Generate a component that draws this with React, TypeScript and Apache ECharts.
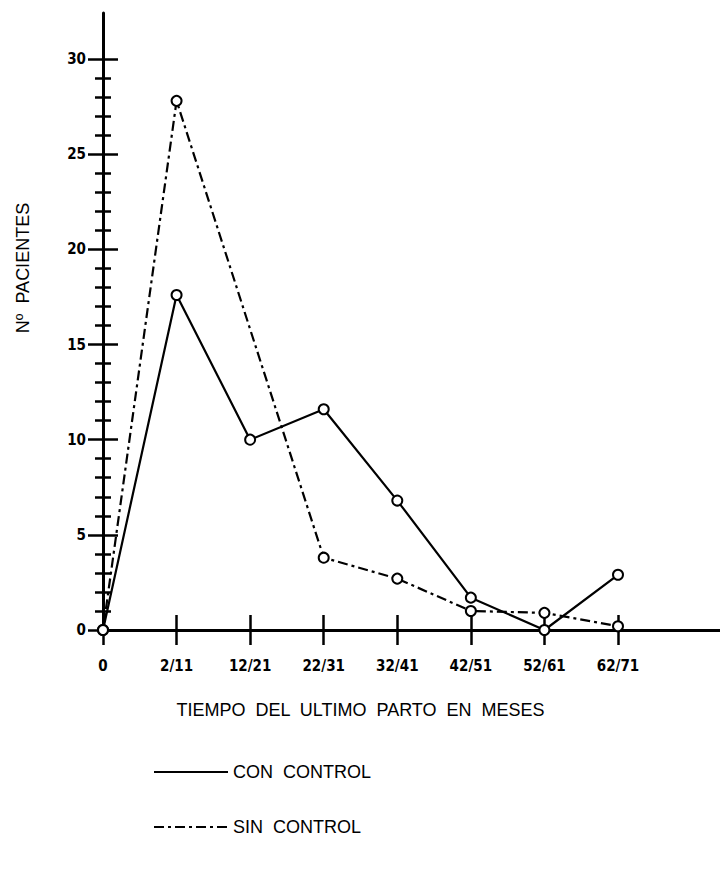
import React, { useEffect, useRef } from "react";
import * as echarts from "echarts";

const categories = ["0", "2/11", "12/21", "22/31", "32/41", "42/51", "52/61", "62/71"];
const conControl: (number | null)[] = [0, 17.6, 10, 11.6, 6.8, 1.7, 0, 2.9];
const sinControl: (number | null)[] = [0, 27.8, null, 3.8, 2.7, 1.0, 0.9, 0.2];
const seriesNames = ["CON  CONTROL", "SIN  CONTROL"];
const xTitle = "TIEMPO  DEL  ULTIMO  PARTO  EN  MESES";
const yTitle = "Nº  PACIENTES";

const LABEL_FONT = "'DejaVu Sans Condensed', 'Liberation Sans Narrow', 'DejaVu Sans', sans-serif";
const TEXT_FONT = "'Liberation Sans', Arial, sans-serif";

export default function App() {
  const ref = useRef<HTMLDivElement>(null);
  useEffect(() => {
    const chart = echarts.init(ref.current!, null, { renderer: "svg" });
    const tickStyle = { color: "#000", width: 2.5 };
    chart.setOption({
      animation: false,
      backgroundColor: "#fff",
      grid: [
        { left: 103, right: 102, top: 59, bottom: 245 },
        { left: 103, right: 0, top: 13, bottom: 245 },
      ],
      legend: {
        orient: "vertical",
        left: 148,
        top: 758,
        itemWidth: 74,
        itemHeight: 16,
        itemGap: 37,
        data: seriesNames,
        itemStyle: { opacity: 0 },
        textStyle: { color: "#000", fontSize: 18, fontFamily: TEXT_FONT },
      },
      xAxis: [
        {
          type: "category",
          gridIndex: 0,
          data: categories,
          boundaryGap: false,
          position: "bottom",
          axisLine: { show: false },
          axisTick: { show: true, length: 15, lineStyle: tickStyle },
          axisLabel: {
            margin: 28,
            color: "#000",
            fontSize: 15,
            fontWeight: "bold",
            fontFamily: LABEL_FONT,
          },
          splitLine: { show: false },
          name: xTitle,
          nameLocation: "middle",
          nameGap: 71,
          nameTextStyle: { color: "#000", fontSize: 18, fontFamily: TEXT_FONT },
        },
        {
          type: "category",
          gridIndex: 0,
          data: categories,
          boundaryGap: false,
          position: "bottom",
          axisLine: { show: false },
          axisTick: { show: true, inside: true, length: 15, lineStyle: tickStyle },
          axisLabel: { show: false },
          splitLine: { show: false },
        },
        {
          type: "value",
          gridIndex: 1,
          min: 0,
          max: 1,
          axisLine: { show: true, lineStyle: { color: "#000", width: 3 } },
          axisTick: { show: false },
          axisLabel: { show: false },
          splitLine: { show: false },
        },
      ],
      yAxis: [
        {
          type: "value",
          gridIndex: 0,
          min: 0,
          max: 30,
          interval: 5,
          position: "left",
          axisLine: { show: false },
          axisTick: { show: true, length: 15, lineStyle: tickStyle },
          minorTick: { show: true, splitNumber: 5, length: 8, lineStyle: { color: "#000", width: 2.5 } },
          axisLabel: {
            margin: 17,
            color: "#000",
            fontSize: 15,
            fontWeight: "bold",
            fontFamily: LABEL_FONT,
          },
          splitLine: { show: false },
          minorSplitLine: { show: false },
        },
        {
          type: "value",
          gridIndex: 0,
          min: 0,
          max: 30,
          interval: 5,
          position: "left",
          axisLine: { show: false },
          axisTick: { show: true, inside: true, length: 15, lineStyle: tickStyle },
          minorTick: { show: true, splitNumber: 5, length: 8, lineStyle: { color: "#000", width: 2.5 } },
          axisLabel: { show: false },
          splitLine: { show: false },
        },
        {
          type: "value",
          gridIndex: 1,
          min: 0,
          max: 1,
          axisLine: { show: true, lineStyle: { color: "#000", width: 3 } },
          axisTick: { show: false },
          axisLabel: { show: false },
          splitLine: { show: false },
        },
      ],
      graphic: [
        {
          type: "text",
          x: 23,
          y: 268,
          rotation: Math.PI / 2,
          style: {
            text: yTitle,
            fill: "#000",
            fontSize: 18,
            fontFamily: TEXT_FONT,
            align: "center",
            verticalAlign: "middle",
          },
        },
      ],
      series: [
        {
          name: seriesNames[0],
          type: "line",
          xAxisIndex: 0,
          yAxisIndex: 0,
          data: conControl,
          symbol: "emptyCircle",
          symbolSize: 10,
          itemStyle: { color: "#000", borderColor: "#000", borderWidth: 1.8 },
          lineStyle: { color: "#000", width: 2.2, type: "solid" },
        },
        {
          name: seriesNames[1],
          type: "line",
          xAxisIndex: 0,
          yAxisIndex: 0,
          data: sinControl,
          connectNulls: true,
          symbol: "emptyCircle",
          symbolSize: 10,
          itemStyle: { color: "#000", borderColor: "#000", borderWidth: 1.8 },
          lineStyle: { color: "#000", width: 2.2, type: [10, 4, 3, 4] },
        },
      ],
    });
    return () => chart.dispose();
  }, []);
  return (
    <div
      ref={ref}
      style={{ position: "absolute", left: 0, top: 0, width: 720, height: 875, background: "#fff" }}
    />
  );
}
